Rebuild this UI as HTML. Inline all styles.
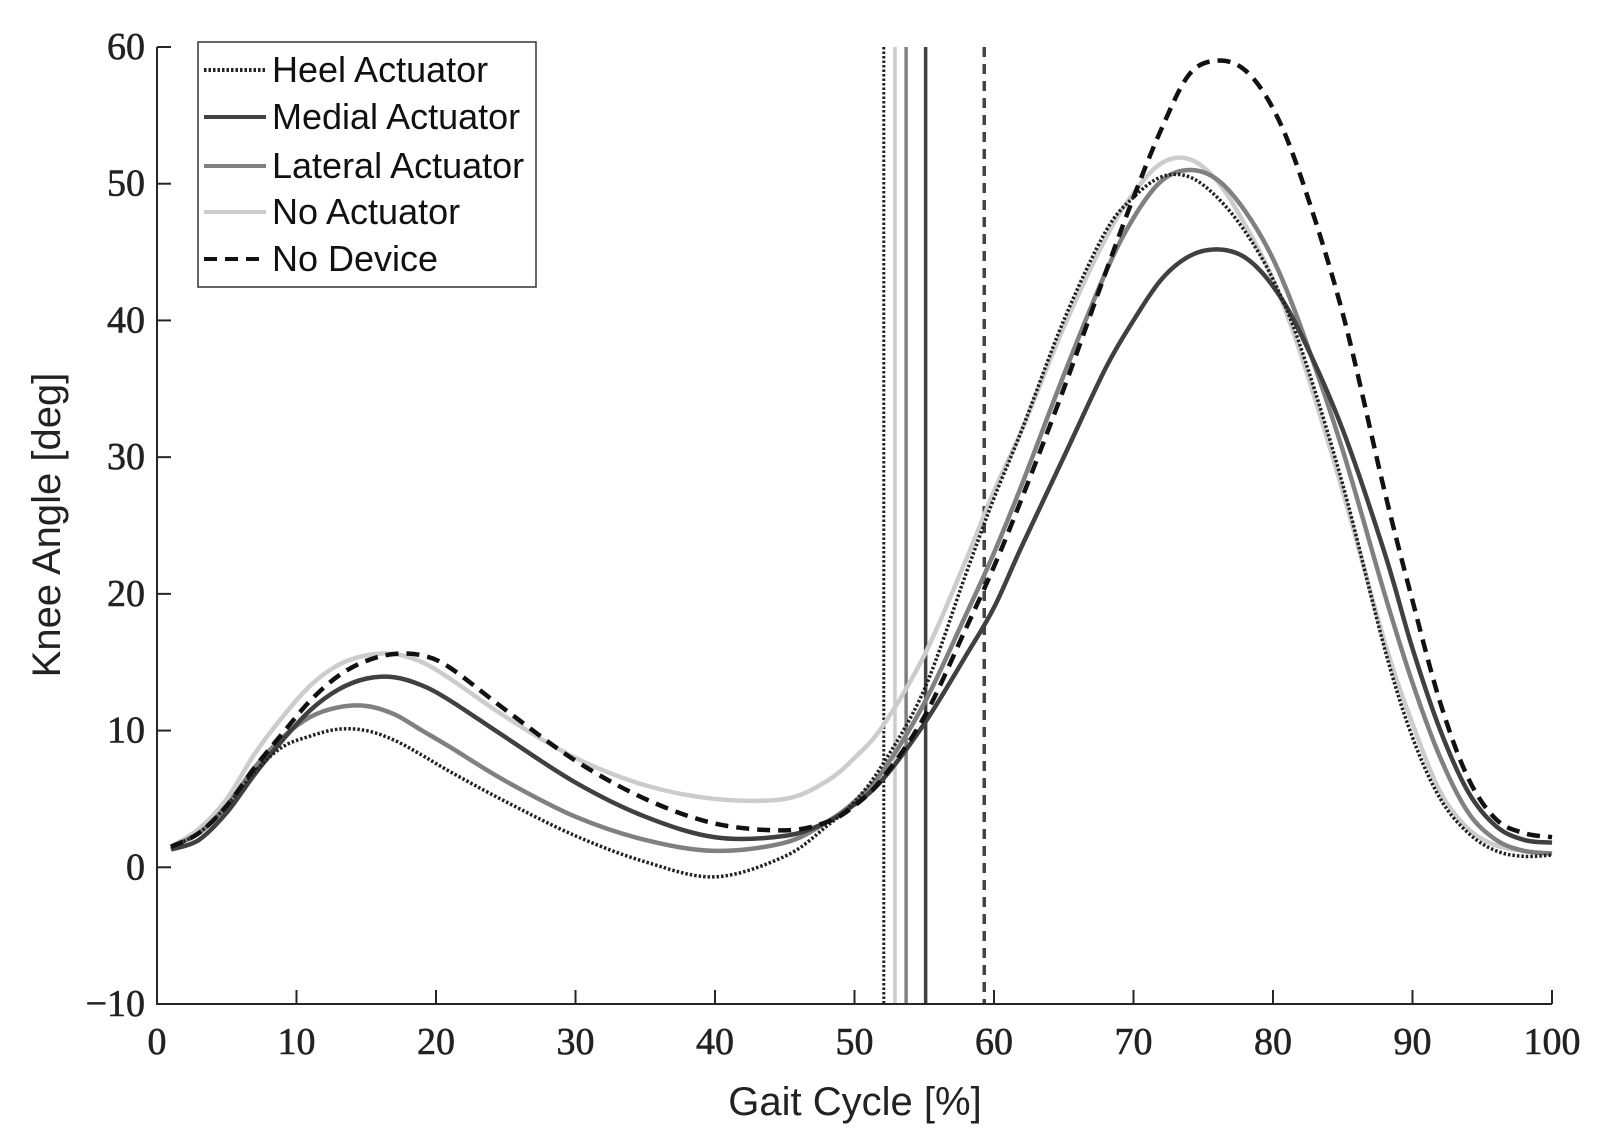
<!DOCTYPE html>
<html><head><meta charset="utf-8"><style>
html,body{margin:0;padding:0;background:#fff}
svg{display:block}
.tick{font-family:"Liberation Serif",serif;font-size:38px;fill:#222;stroke:#222;stroke-width:0.6}
.lab{font-family:"Liberation Sans",sans-serif;font-size:40px;fill:#222}
.leg{font-family:"Liberation Sans",sans-serif;font-size:36px;fill:#111}
</style></head><body>
<svg id="chart" width="1611" height="1146" viewBox="0 0 1611 1146" xmlns="http://www.w3.org/2000/svg">
<g id="vlines"></g>
<g id="series"></g>
<g id="axes"></g>
<text class="lab" x="855" y="1115" text-anchor="middle">Gait Cycle [%]</text>
<text class="lab" transform="translate(60,525) rotate(-90)" text-anchor="middle">Knee Angle [deg]</text>
<g>
<rect x="198" y="42" width="338" height="245" fill="#fff" stroke="#333" stroke-width="1.5"/>
<g><line x1="204" y1="70" x2="266" y2="70" stroke="#222" stroke-width="4" stroke-dasharray="2.5 2"/><text class="leg" x="272" y="82">Heel Actuator</text></g>
<g><line x1="204" y1="117" x2="266" y2="117" stroke="#404040" stroke-width="4"/><text class="leg" x="272" y="129">Medial Actuator</text></g>
<g><line x1="204" y1="166" x2="266" y2="166" stroke="#808080" stroke-width="4"/><text class="leg" x="272" y="178">Lateral Actuator</text></g>
<g><line x1="204" y1="212" x2="266" y2="212" stroke="#cccccc" stroke-width="4"/><text class="leg" x="272" y="224">No Actuator</text></g>
<g><line x1="204" y1="259" x2="266" y2="259" stroke="#111" stroke-width="4" stroke-dasharray="13 8"/><text class="leg" x="272" y="271">No Device</text></g>
</g>
</svg>
<script>
const gait = [1,3,5,7,9,11,13,15,17,19,21,25,30,35,40,45,48,50,52,55,58,60,62,65,68,70,72,74,76,78,80,82,85,88,90,92,94,96,98,100];
const heel = [1.5,2.5,4.5,7,8.8,9.6,10.1,10,9.3,8.2,7,4.8,2.3,0.4,-0.7,0.8,3,4.8,7.5,13,21.5,27,32,40,46.5,49,50.5,50.5,49,46.5,43,38,28,16,9.5,5,2.5,1.2,0.8,0.9];
const medial = [1.3,2,4,6.8,9.3,11.5,13,13.8,13.9,13.3,12.2,9.5,6.2,3.7,2.2,2.3,3.3,4.6,6.4,10.5,15.5,19,23.5,30,36.5,40,43,44.7,45.2,44.6,42.5,39,32,23,16,10,5.5,3,2,1.8];
const lateral = [1.5,2.5,4.5,7.3,9.5,11,11.7,11.8,11.2,10,8.8,6.3,3.7,2,1.2,1.8,3.3,4.8,7,12,18.5,23,28,36,43.5,47.5,50.2,51,50.3,48,44.5,39.5,30.5,20,13.5,8,4,2,1.2,1];
const noActuator = [1.5,2.8,5,8.3,11,13.3,14.8,15.5,15.6,15,13.8,11,8,6,5,5,6.3,8,10.3,15.5,22.5,27.5,32,39.5,46,49.3,51.5,51.8,50.2,47,43,37.5,27.5,16.5,10.5,5.5,2.8,1.6,1.2,1];
const noDevice = [1.5,2.5,4.5,7.3,9.8,12.2,14,15.1,15.6,15.5,14.6,11.5,7.8,5,3.2,2.7,3.3,4.5,6.5,11,17.5,22,27,35,43.5,49,54,58,59,58.3,55.5,50.5,40.5,27.5,19.5,12,6.5,3.5,2.5,2.2];
const toeOff = [59.3,55.1,53.7,52.9,52.1];
const xTicks = [0,10,20,30,40,50,60,70,80,90,100];
const yTicks = [-10,0,10,20,30,40,50,60];

const NS="http://www.w3.org/2000/svg";
const X0=157,X1=1552,Y0=1004,Y1=47;
const sx=v=>X0+(v-0)/100*(X1-X0);
const sy=v=>Y0-(v+10)/70*(Y0-Y1);
function mk(tag,attrs,parent){const e=document.createElementNS(NS,tag);for(const k in attrs)e.setAttribute(k,attrs[k]);parent.appendChild(e);return e;}
function pathFor(xs,ys){
  const p=xs.map((x,i)=>[sx(x),sy(ys[i])]);
  let d="M"+p[0][0]+","+p[0][1];
  for(let i=0;i<p.length-1;i++){
    const a=p[Math.max(i-1,0)],b=p[i],c=p[i+1],e=p[Math.min(i+2,p.length-1)];
    const c1x=b[0]+(c[0]-a[0])/6,c1y=b[1]+(c[1]-a[1])/6;
    const c2x=c[0]-(e[0]-b[0])/6,c2y=c[1]-(e[1]-b[1])/6;
    d+=` C${c1x},${c1y} ${c2x},${c2y} ${c[0]},${c[1]}`;
  }
  return d;
}
const vg=document.getElementById('vlines');
const vstyles=[["#444","3.5","10 7"],["#404040","3.5",""],["#808080","3.5",""],["#cccccc","3.5",""],["#222","3","2.5 2"]];
const vnames=['toe-off-no-device','toe-off-medial','toe-off-lateral','toe-off-no-actuator','toe-off-heel'];
toeOff.forEach((v,i)=>{
  const l=mk('line',{x1:sx(v),x2:sx(v),y1:Y1,y2:Y0,stroke:vstyles[i][0],'stroke-width':vstyles[i][1],'stroke-dasharray':vstyles[i][2]},vg);
  
  
});
const sg=document.getElementById('series');
const series=[[noActuator,"#cccccc","4.5","",'line-no-actuator'],[lateral,"#808080","4.5","",'line-lateral'],[medial,"#404040","4.5","",'line-medial'],[heel,"#222","3.5","2.5 2",'line-heel'],[noDevice,"#111","4.5","13 8",'line-no-device']];
series.forEach(s=>{
  const p=mk('path',{d:pathFor(gait,s[0]),fill:"none",stroke:s[1],'stroke-width':s[2],'stroke-dasharray':s[3],'stroke-linejoin':'round'},sg);
  
  
});
const ag=document.getElementById('axes');
mk('path',{d:`M${X0},${Y1} L${X0},${Y0} L${X1},${Y0}`,fill:"none",stroke:"#262626","stroke-width":"2"},ag);
xTicks.forEach(t=>{
  mk('line',{x1:sx(t),x2:sx(t),y1:Y0,y2:Y0-14,stroke:"#262626","stroke-width":"2"},ag);
  const tx=mk('text',{x:sx(t),y:Y0+50,'text-anchor':'middle',class:'tick'},ag);tx.textContent=t;
  
  
});
yTicks.forEach(t=>{
  mk('line',{x1:X0,x2:X0+14,y1:sy(t),y2:sy(t),stroke:"#262626","stroke-width":"2"},ag);
  const tx=mk('text',{x:X0-12,y:sy(t)+12,'text-anchor':'end',class:'tick'},ag);tx.textContent=t<0?"\u2212"+(-t):t;
  
  
});
</script>
</body></html>
